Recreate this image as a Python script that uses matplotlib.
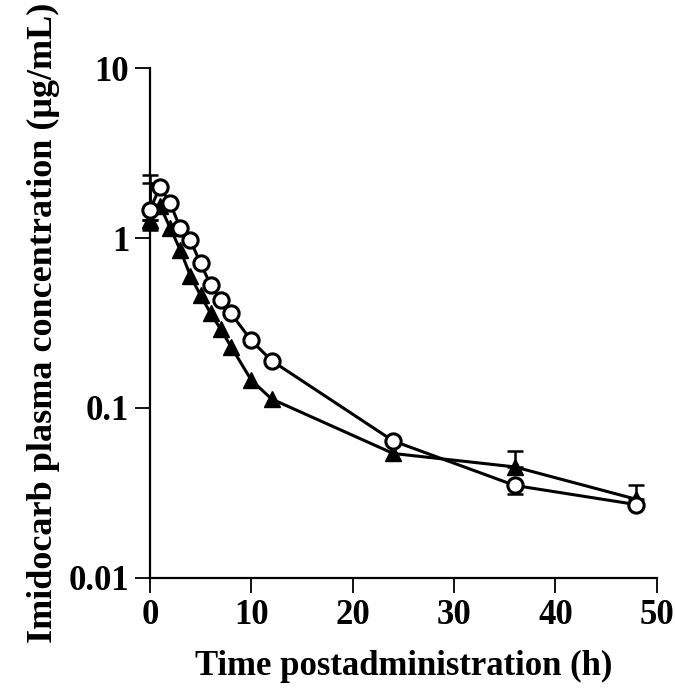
import matplotlib
matplotlib.use('Agg')
import matplotlib.pyplot as plt
import numpy as np

# sampling times (h)
time_h = [0, 1, 2, 3, 4, 5, 6, 7, 8, 10, 12, 24, 36, 48]

# open circles
circle_conc = [1.46, 2.0, 1.6, 1.15, 0.97, 0.71, 0.53, 0.43, 0.36, 0.25, 0.19, 0.064, 0.035, 0.027]
circle_err_low = [0.35, 0, 0, 0, 0, 0, 0, 0, 0, 0, 0, 0, 0.004, 0]
circle_err_up = [0.89, 0, 0, 0, 0, 0, 0, 0, 0, 0, 0, 0, 0, 0]

# filled triangles
tri_conc = [1.28, 1.55, 1.15, 0.85, 0.60, 0.46, 0.36, 0.29, 0.23, 0.146, 0.113, 0.054, 0.045, 0.029]
tri_err_low = [0.13, 0, 0, 0, 0, 0, 0, 0, 0, 0, 0, 0, 0, 0]
tri_err_up = [0.82, 0, 0, 0, 0, 0, 0, 0, 0, 0, 0, 0, 0.011, 0.006]

plt.rcParams['font.family'] = ['Liberation Serif', 'DejaVu Serif']
plt.rcParams['font.weight'] = 'bold'

fig = plt.figure(figsize=(6.75, 6.88), dpi=100)
ax = fig.add_axes([0.222, 0.160, 0.751, 0.741])

t = np.array(time_h)


def bars(conc, low, up):
    conc, low, up = np.array(conc), np.array(low), np.array(up)
    for m, err in [(up > 0, 'up'), (low > 0, 'low')]:
        z = np.zeros(m.sum())
        yerr = [z, up[m]] if err == 'up' else [low[m], z]
        eb = ax.errorbar(t[m], conc[m], yerr=yerr, fmt='none', ecolor='black',
                         capsize=5.5, capthick=1.8, elinewidth=1.8, zorder=2)
        for a in eb.lines[1] + eb.lines[2]:
            a.set_clip_on(False)


bars(tri_conc, tri_err_low, tri_err_up)
bars(circle_conc, circle_err_low, circle_err_up)

ax.plot(time_h, tri_conc, '-^', color='black', lw=2.2, ms=11, zorder=3, clip_on=False)
ax.plot(time_h, circle_conc, '-o', color='black', lw=2.2, mfc='white', mec='black',
        mew=2.2, ms=11, zorder=4, clip_on=False)

ax.set_yscale('log')
ax.set_ylim(0.01, 10)
ax.set_xlim(0, 50)
ax.set_yticks([0.01, 0.1, 1, 10])
ax.set_yticklabels(['0.01', '0.1', '1', '10'])
ax.yaxis.set_minor_locator(matplotlib.ticker.NullLocator())
ax.set_xticks([0, 10, 20, 30, 40, 50])

for s in ['top', 'right']:
    ax.spines[s].set_visible(False)
for s in ['left', 'bottom']:
    ax.spines[s].set_linewidth(1.6)
ax.tick_params(width=1.3, length=11, labelsize=25, pad=4)

ax.set_xlabel('Time postadministration (h)', fontsize=25, fontweight='bold', labelpad=13)
ax.set_ylabel('Imidocarb plasma concentration (\u03bcg/mL)', fontsize=26, fontweight='bold', labelpad=6)

fig.savefig('out.png', dpi=100)
